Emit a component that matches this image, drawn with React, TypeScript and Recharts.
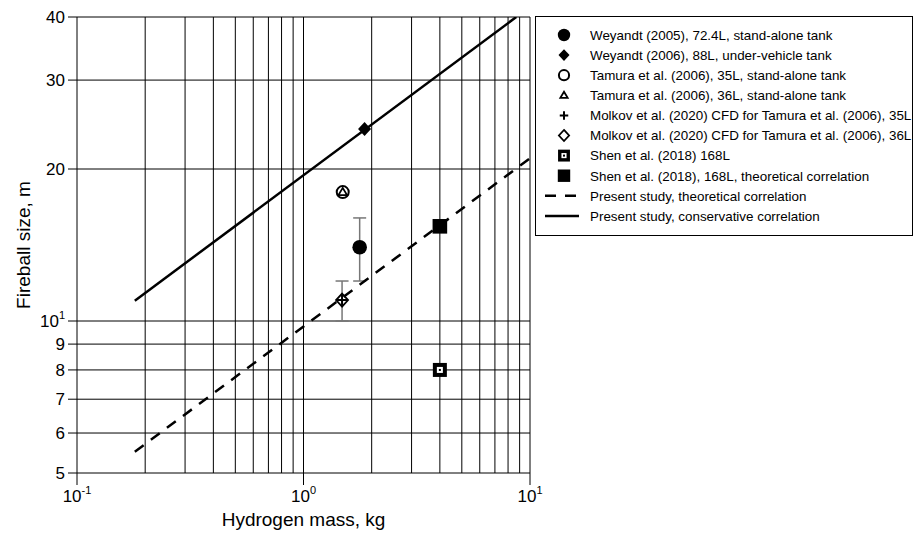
import React from 'react';
import { ScatterChart, Scatter, XAxis, YAxis, ReferenceLine, ErrorBar, Legend } from 'recharts';

const FONT = '"Liberation Sans", Arial, sans-serif';

// axis ticks and grid positions
const xTicks = [0.1, 1, 10];
const xTickExponents = ['-1', '0', '1'];
const yTicks = [5, 6, 7, 8, 9, 10, 20, 30, 40];
const yTickLabels = ['5', '6', '7', '8', '9', '10', '20', '30', '40'];
const yTickSups = ['', '', '', '', '', '1', '', '', ''];
const xGrid = [0.2, 0.3, 0.4, 0.5, 0.6, 0.7, 0.8, 0.9, 1, 2, 3, 4, 5, 6, 7, 8, 9, 10];
const yGrid = [6, 7, 8, 9, 10, 20, 30, 40];

// measured points (m = hydrogen mass kg, d = fireball size m)
const weyandt2005 = [{ m: 1.77, d: 14.0, err: 2.0 }];
const weyandt2006 = [{ m: 1.86, d: 24.0 }];
const tamura35 = [{ m: 1.49, d: 18.0 }];
const tamura36 = [{ m: 1.49, d: 18.0 }];
const molkov35 = [{ m: 1.48, d: 11.0 }];
const molkov36 = [{ m: 1.48, d: 11.0, err: 1.0 }];
const shen168 = [{ m: 4.0, d: 8.0 }];
const shenTheory = [{ m: 4.0, d: 15.4 }];

// correlation lines (end points)
const theoreticalLine = [{ m: 0.18, d: 5.51 }, { m: 10, d: 21.0 }];
const conservativeLine = [{ m: 0.18, d: 10.97 }, { m: 8.7, d: 40 }];

const legendLabels = [
  'Weyandt (2005), 72.4L, stand-alone tank',
  'Weyandt (2006), 88L, under-vehicle tank',
  'Tamura et al. (2006), 35L, stand-alone tank',
  'Tamura et al. (2006), 36L, stand-alone tank',
  'Molkov et al. (2020) CFD for Tamura et al. (2006), 35L',
  'Molkov et al. (2020) CFD for Tamura et al. (2006), 36L',
  'Shen et al. (2018) 168L',
  'Shen et al. (2018), 168L, theoretical correlation',
  'Present study, theoretical correlation',
  'Present study, conservative correlation',
];

type Mk = { cx: number; cy: number; s?: number };

const FilledCircle = ({ cx, cy, s = 1 }: Mk) => <circle cx={cx} cy={cy} r={7.3 * s} fill="#000" />;
const FilledDiamond = ({ cx, cy, s = 1 }: Mk) => (
  <path d={`M${cx},${cy - 7 * s}L${cx + 6.5 * s},${cy}L${cx},${cy + 7 * s}L${cx - 6.5 * s},${cy}Z`} fill="#000" />
);
const OpenCircle = ({ cx, cy, s = 1 }: Mk) => (
  <circle cx={cx} cy={cy} r={6 * s} fill="none" stroke="#000" strokeWidth={2} />
);
const OpenTriangle = ({ cx, cy, s = 1 }: Mk) => (
  <path
    d={`M${cx},${cy - 4.2 * s}L${cx + 4.3 * s},${cy + 3 * s}L${cx - 4.3 * s},${cy + 3 * s}Z`}
    fill="none"
    stroke="#000"
    strokeWidth={1.8}
  />
);
const Plus = ({ cx, cy, s = 1 }: Mk) => (
  <path d={`M${cx - 5 * s},${cy}H${cx + 5 * s}M${cx},${cy - 5 * s}V${cy + 5 * s}`} stroke="#000" strokeWidth={2} />
);
const OpenDiamond = ({ cx, cy, s = 1 }: Mk) => (
  <path
    d={`M${cx},${cy - 6.5 * s}L${cx + 6 * s},${cy}L${cx},${cy + 6.5 * s}L${cx - 6 * s},${cy}Z`}
    fill="none"
    stroke="#000"
    strokeWidth={1.8}
  />
);
const SquareDot = ({ cx, cy, s = 1 }: Mk) => (
  <g>
    <rect x={cx - 7 * s} y={cy - 7 * s} width={14 * s} height={14 * s} fill="#000" />
    <rect x={cx - 3 * s} y={cy - 3 * s} width={6 * s} height={6 * s} fill="#fff" />
    <rect x={cx - 1} y={cy - 1} width={2} height={2} fill="#000" />
  </g>
);
const FilledSquare = ({ cx, cy, s = 1 }: Mk) => (
  <rect x={cx - 7.3 * s} y={cy - 7.3 * s} width={14.6 * s} height={14.6 * s} fill="#000" />
);
const NoDot = () => <g />;

const legendSymbols = [FilledCircle, FilledDiamond, OpenCircle, OpenTriangle, Plus, OpenDiamond, SquareDot, FilledSquare];

const XTick = (props: any) => {
  const { x, y, index } = props;
  return (
    <text x={x} y={y} dy={15} textAnchor="middle" fontSize={17} fontFamily={FONT} fill="#000">
      10
      <tspan dy={-8} fontSize={11}>
        {xTickExponents[index]}
      </tspan>
    </text>
  );
};

const YTick = (props: any) => {
  const { x, y, index } = props;
  const sup = yTickSups[index];
  return (
    <text x={x} y={y} dy={6} textAnchor="end" fontSize={17} fontFamily={FONT} fill="#000">
      {yTickLabels[index]}
      {sup ? (
        <tspan dy={-8} fontSize={11}>
          {sup}
        </tspan>
      ) : null}
    </text>
  );
};

const LegendBox = () => (
  <div
    style={{
      width: 376,
      height: 218,
      border: '1px solid #000',
      background: '#fff',
      boxSizing: 'content-box',
    }}
  >
    <svg width={376} height={218} style={{ display: 'block' }}>
      {legendLabels.map((label, i) => {
        const cy = 18 + i * 20.1;
        const Sym = legendSymbols[i];
        return (
          <g key={label}>
            {Sym ? <Sym cx={28} cy={cy} s={0.85} /> : null}
            {i === 8 ? (
              <line x1={9} x2={43} y1={cy} y2={cy} stroke="#000" strokeWidth={2.5} strokeDasharray="11 9" />
            ) : null}
            {i === 9 ? <line x1={9} x2={43} y1={cy} y2={cy} stroke="#000" strokeWidth={2.5} /> : null}
            <text x={54} y={cy} dy={4.8} fontSize={13.4} fontFamily={FONT} fill="#000">
              {label}
            </text>
          </g>
        );
      })}
    </svg>
  </div>
);

export default function App() {
  return (
    <div style={{ position: 'absolute', left: 0, top: 0, background: '#fff' }}>
      <ScatterChart width={915} height={536} margin={{ top: 17, right: 385, bottom: 0, left: 0 }}>
        <XAxis
          type="number"
          dataKey="m"
          scale="log"
          domain={[0.1, 10]}
          allowDataOverflow
          ticks={xTicks}
          height={63}
          stroke="#000"
          tickSize={12}
          tickMargin={2}
          tick={<XTick />}
          label={{ value: 'Hydrogen mass, kg', position: 'insideBottom', offset: 10, fontSize: 19, fill: '#000', fontFamily: FONT }}
        />
        <YAxis
          type="number"
          dataKey="d"
          scale="log"
          domain={[5, 40]}
          allowDataOverflow
          ticks={yTicks}
          width={77}
          stroke="#000"
          tickSize={9}
          tickMargin={3}
          tick={<YTick />}
          label={{
            value: 'Fireball size, m',
            angle: -90,
            position: 'insideLeft',
            offset: 23,
            fontSize: 19,
            fill: '#000',
            fontFamily: FONT,
            style: { textAnchor: 'middle' },
          }}
        />
        {xGrid.map((v) => (
          <ReferenceLine key={`x${v}`} x={v} stroke="#000" strokeWidth={1} />
        ))}
        {yGrid.map((v) => (
          <ReferenceLine key={`y${v}`} y={v} stroke="#000" strokeWidth={1} />
        ))}
        <Scatter
          name="theoretical"
          data={theoreticalLine}
          line={{ stroke: '#000', strokeWidth: 2.5, strokeDasharray: '11 9' }}
          shape={<NoDot />}
          isAnimationActive={false}
        />
        <Scatter
          name="conservative"
          data={conservativeLine}
          line={{ stroke: '#000', strokeWidth: 2.5 }}
          shape={<NoDot />}
          isAnimationActive={false}
        />
        <Scatter name="w2005" data={weyandt2005} shape={(p: any) => <FilledCircle cx={p.cx} cy={p.cy} />} isAnimationActive={false}>
          <ErrorBar dataKey="err" direction="y" width={6.5} stroke="#777" strokeWidth={1.5} />
        </Scatter>
        <Scatter name="w2006" data={weyandt2006} shape={(p: any) => <FilledDiamond cx={p.cx} cy={p.cy} />} isAnimationActive={false} />
        <Scatter name="t35" data={tamura35} shape={(p: any) => <OpenCircle cx={p.cx} cy={p.cy} />} isAnimationActive={false} />
        <Scatter name="t36" data={tamura36} shape={(p: any) => <OpenTriangle cx={p.cx} cy={p.cy} />} isAnimationActive={false} />
        <Scatter name="m36" data={molkov36} shape={(p: any) => <OpenDiamond cx={p.cx} cy={p.cy} />} isAnimationActive={false}>
          <ErrorBar dataKey="err" direction="y" width={6.5} stroke="#777" strokeWidth={1.5} />
        </Scatter>
        <Scatter name="m35" data={molkov35} shape={(p: any) => <Plus cx={p.cx} cy={p.cy} />} isAnimationActive={false} />
        <Scatter name="s168" data={shen168} shape={(p: any) => <SquareDot cx={p.cx} cy={p.cy} />} isAnimationActive={false} />
        <Scatter name="sTheory" data={shenTheory} shape={(p: any) => <FilledSquare cx={p.cx} cy={p.cy} />} isAnimationActive={false} />
        <Legend
          layout="vertical"
          align="center"
          verticalAlign="middle"
          content={<LegendBox />}
          wrapperStyle={{ left: 535, top: 16, width: 378, height: 220 }}
        />
      </ScatterChart>
    </div>
  );
}
